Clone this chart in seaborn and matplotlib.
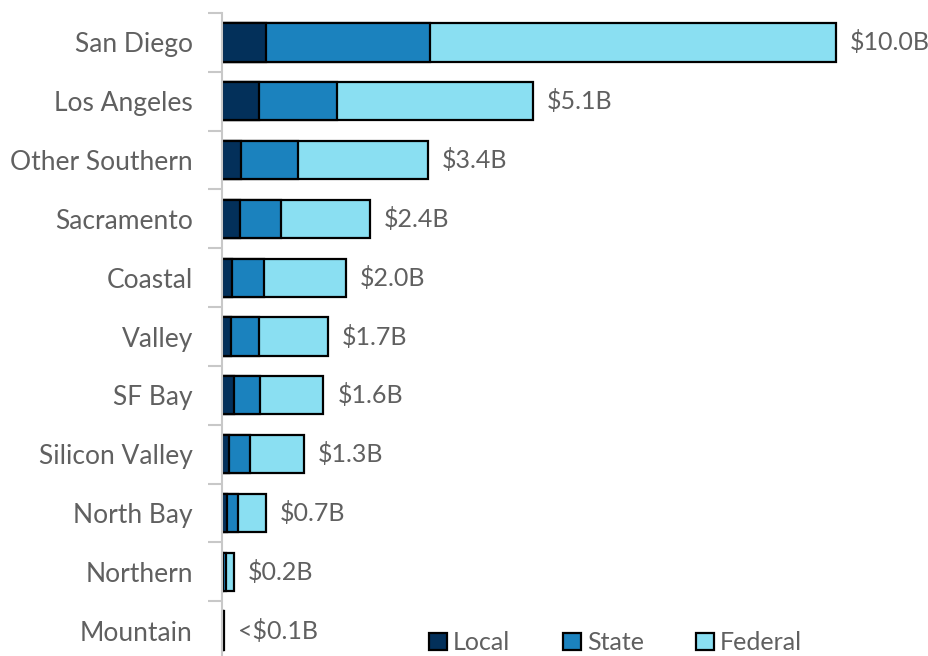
import matplotlib
matplotlib.use("Agg")
import matplotlib.pyplot as plt
from matplotlib.patches import Patch
import numpy as np
import pandas as pd
import seaborn as sns

regions = ["San Diego", "Los Angeles", "Other Southern", "Sacramento", "Coastal",
           "Valley", "SF Bay", "Silicon Valley", "North Bay", "Northern", "Mountain"]
local = [0.72, 0.60, 0.31, 0.29, 0.16, 0.15, 0.20, 0.11, 0.08, 0.02, 0.01]
state = [2.67, 1.27, 0.93, 0.67, 0.52, 0.46, 0.42, 0.34, 0.18, 0.05, 0.01]
federal = [6.61, 3.19, 2.12, 1.45, 1.34, 1.11, 1.03, 0.88, 0.46, 0.12, 0.01]
total_labels = ["$10.0B", "$5.1B", "$3.4B", "$2.4B", "$2.0B", "$1.7B",
                "$1.6B", "$1.3B", "$0.7B", "$0.2B", "<$0.1B"]

COLORS = {"Local": "#03305A", "State": "#1B82BE", "Federal": "#8ADFF2"}
GRAY = "#606060"

df = pd.DataFrame({"region": regions, "Local": local, "State": state, "Federal": federal})
df["cum_state"] = df["Local"] + df["State"]
df["cum_federal"] = df["cum_state"] + df["Federal"]

sns.set_theme(style="white")
plt.rcParams["font.family"] = ["Lato", "DejaVu Sans"]

fig = plt.figure(figsize=(9.29, 6.56), dpi=100)
ax = fig.add_axes([222 / 929, -4 / 656, 706 / 929, 647 / 656])

# stacked bars drawn as overlapping cumulative totals
for col, key in [("cum_federal", "Federal"), ("cum_state", "State"), ("Local", "Local")]:
    sns.barplot(data=df, y="region", x=col, orient="h", color=COLORS[key],
                edgecolor="black", linewidth=1.6, width=0.65, saturation=1, ax=ax)

for i, (tot, lab) in enumerate(zip(df["cum_federal"], total_labels)):
    ax.annotate(lab, xy=(tot, i), xytext=(14, 0), textcoords="offset pixels",
                va="center", ha="left", fontsize=18, color=GRAY)

ax.set_xlim(0, 11.5)
ax.set_ylim(10.5, -0.5)
ax.set_xlabel("")
ax.set_ylabel("")
ax.set_xticks([])

# category boundary ticks, labels at centers
ax.set_yticks(np.arange(-0.5, 11, 1.0))
ax.set_yticklabels([])
ax.set_yticks(np.arange(len(regions)), minor=True)
ax.set_yticklabels(regions, minor=True, fontsize=19, color=GRAY)
ax.tick_params(axis="y", which="major", length=10, width=1.5, color="#c8c8c8", left=True)
ax.tick_params(axis="y", which="minor", length=0, pad=21)

for s in ["top", "right", "bottom"]:
    ax.spines[s].set_visible(False)
ax.spines["left"].set_color("#c8c8c8")
ax.spines["left"].set_linewidth(1.5)

handles = [Patch(facecolor=COLORS[k], edgecolor="black", linewidth=1.6, label=k)
           for k in ["Local", "State", "Federal"]]
fig.legend(handles=handles, loc="lower left", bbox_to_anchor=(407 / 929, -0.032),
           ncol=3, frameon=False, fontsize=18, labelcolor=GRAY,
           handlelength=0.7, handleheight=0.7, handletextpad=0.25, columnspacing=2.1)

fig.savefig("out.png", dpi=100)
